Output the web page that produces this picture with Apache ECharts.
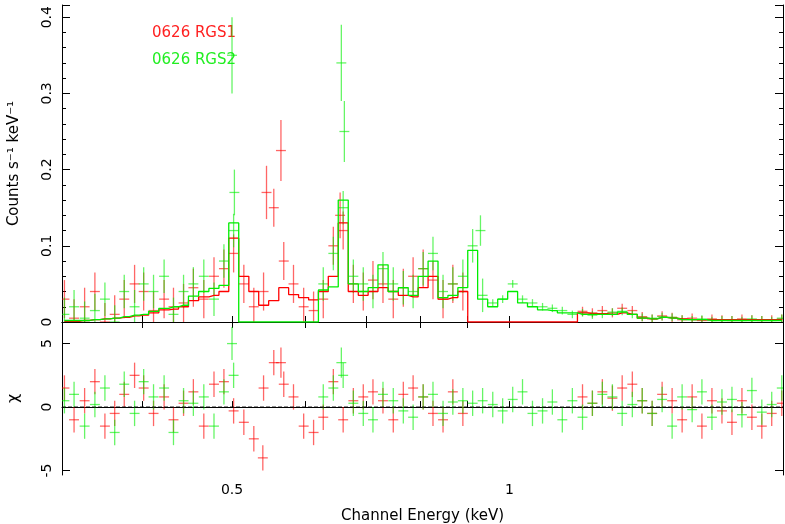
<!DOCTYPE html>
<html><head><meta charset="utf-8">
<script src="https://cdn.jsdelivr.net/npm/echarts@6/dist/echarts.min.js"></script>
<style>html,body{margin:0;padding:0;background:#fff}#c{width:785px;height:524px}</style>
</head><body><div id="c"></div>
<script>
const energies=[0.329,0.337,0.346,0.355,0.364,0.373,0.382,0.392,0.401,0.411,0.422,0.432,0.443,0.454,0.466,0.478,0.490,0.502,0.515,0.528,0.541,0.555,0.569,0.583,0.598,0.613,0.628,0.644,0.660,0.677,0.694,0.711,0.729,0.748,0.767,0.786,0.806,0.826,0.847,0.868,0.890,0.912,0.935,0.959,0.983,1.008,1.033,1.059,1.086,1.113,1.141,1.170,1.200,1.230,1.261,1.293,1.325,1.359,1.393,1.428,1.464,1.501,1.539,1.578,1.617,1.658,1.700,1.743,1.787,1.832,1.878,1.925,1.974];
const N=null;
const model1=[0.001,0.001,0.002,0.003,0.004,0.005,0.006,0.008,0.009,0.012,0.016,0.017,0.02,0.028,0.033,0.035,0.040,0.110,0.060,0.040,0.022,0.028,0.045,0.036,0.032,0.029,0.040,0.060,0.130,0.040,0.035,0.040,0.045,0.040,0.035,0.033,0.045,0.060,0.030,0.032,0.040,0,0,0,0,0,0,0,0,0,0,0,0.012,0.011,0.011,0.010,0.012,0.010,0.005,0.004,0.006,0.005,0.004,0.003,0.003,0.003,0.003,0.003,0.003,0.003,0.003,0.003,0.003];
const model2=[0.002,0.002,0.002,0.003,0.004,0.005,0.007,0.009,0.010,0.014,0.018,0.02,0.022,0.034,0.040,0.044,0.048,0.130,0,0,0,0,0,0,0,0,0.042,0.046,0.160,0.050,0.040,0.045,0.075,0.040,0.045,0.035,0.060,0.080,0.032,0.035,0.045,0.094,0.030,0.020,0.030,0.040,0.025,0.020,0.016,0.015,0.012,0.012,0.010,0.010,0.010,0.010,0.013,0.010,0.005,0.004,0.006,0.005,0.003,0.003,0.003,0.002,0.002,0.002,0.002,0.002,0.002,0.002,0.002];
const rgs1Y=[0.03,0.005,0.02,0.04,0.0,0.01,0.03,0.05,0.04,0.015,0.03,0.02,0.025,0.045,0.03,0.06,0.07,0.09,0.05,0.02,0.04,0.15,0.08,0.05,0.02,0.015,0.03,0.1,0.12,0.05,0.04,0.055,0.05,0.03,0.045,0.06,0.07,0.055,0.03,0.05,0.04,N,N,N,N,N,N,N,N,N,N,N,0.014,0.012,0.015,0.012,0.018,0.015,0.007,0.004,0.008,0.006,0.003,0.005,0.002,0.004,0.003,0.002,0.004,0.003,0.002,0.003,0.004];
const rgs2Y=[0.01,0.02,0.005,0.015,0.03,0.0,0.04,0.02,0.05,0.04,0.06,0.01,0.04,0.05,0.06,0.03,0.08,0.12,N,N,N,N,N,N,N,N,0.05,0.09,0.15,0.06,0.05,0.04,0.07,0.05,0.045,0.04,0.07,0.09,0.04,0.05,0.06,0.1,0.035,0.025,0.03,0.05,0.03,0.025,0.02,0.018,0.015,0.01,0.012,0.009,0.01,0.013,0.014,0.01,0.006,0.005,0.007,0.006,0.004,0.003,0.004,0.002,0.003,0.003,0.002,0.004,0.003,0.002,0.005];
const chi1=[1.5,-1,0.5,2,-1.5,-0.5,1,2.5,1.5,-0.5,0.8,-1,0.3,1.2,-1.5,1.8,2,-0.3,-1.2,-2.5,1.5,3.5,1.8,0.8,-1.5,-2,-0.8,2,-1,0.5,0.8,1.2,0.5,-1,1,1.5,0.8,-0.5,-1,1.2,-0.5,N,N,N,N,N,N,N,N,N,N,N,0.8,0.3,1.2,0.7,1.5,1.8,0.5,-0.5,1,0.5,-1,0.8,-1.5,0.5,-0.3,-1.2,0.5,-0.8,-1.5,-0.5,0.3];
const chi2=[0.5,1,-1.5,0.2,1.5,-2,1.8,-0.5,2,0.8,1.5,-2,0.5,0.3,0.8,-1.5,1.2,2.5,N,N,N,N,N,N,N,N,0.8,1.5,2.5,0.3,-0.5,-1,1,0.5,-0.3,-0.8,0.8,1,-0.5,0.4,0.5,0.3,0.5,0.2,-0.3,0.6,1.2,-0.5,-0.3,0.4,-1,0.5,-0.8,0.3,1,0.8,-0.5,0.2,0.5,-0.5,0.6,-1.5,0.8,-0.2,1.2,-0.8,0.4,0.6,-0.6,1.3,-0.4,0.2,1.5];
const spikes1=[[0.565,0.225,0.04],[0.655,0.14,0.03],[0.545,0.17,0.035]];
const spikes2=[[0.5,0.35,0.05],[0.503,0.17,0.03],[0.657,0.34,0.05],[0.662,0.25,0.04],[0.93,0.12,0.02]];
const chiSpikes1=[[0.565,3.5,1.2],[0.54,-4,1]];
const chiSpikes2=[[0.5,5,1.3],[0.657,3.5,1.2]];
const xMinor=[0.4,0.5,0.6,0.7,0.8,0.9,1,2];
const xLabels=[0.5,1];

const RED='#ff0000', GREEN='#00ee00';
function errData(y,err,extra){
  const d=[];
  energies.forEach((e,i)=>{ if(y[i]!==null) d.push([e,y[i],typeof err==='function'?err(i,y[i]):err]); });
  return d.concat(extra);
}
function eb(color,xi,yi,data){
  return {type:'custom',xAxisIndex:xi,yAxisIndex:yi,clip:true,data:data,z:2,
    renderItem:(p,api)=>{
      const e=api.value(0),y=api.value(1),r=api.value(2);
      const a=api.coord([e/1.0125,y]),b=api.coord([e*1.0125,y]);
      const t=api.coord([e,y+r]),u=api.coord([e,y-r]);
      const st={stroke:color,lineWidth:1.3,opacity:0.6};
      return {type:'group',children:[
        {type:'line',shape:{x1:a[0],y1:a[1],x2:b[0],y2:b[1]},style:st},
        {type:'line',shape:{x1:t[0],y1:t[1],x2:u[0],y2:u[1]},style:st}]};
    }};
}
const err1=(i,v)=> energies[i]<0.95?0.025:0.006;
const err2=(i,v)=> energies[i]<0.95?0.022:0.005;
const font='DejaVu Sans';
const xBase={type:'log',logBase:2,min:0.327,max:1.98,
  axisLine:{show:true,lineStyle:{color:'#000'}},
  axisTick:{show:true,inside:true,length:6,customValues:xMinor,lineStyle:{color:'#000'}},
  splitLine:{show:false},
  axisLabel:{show:false}};
const chart=echarts.init(document.getElementById('c'));
chart.setOption({
  animation:false,
  grid:[{left:62,right:2,top:5,height:317,outerBoundsMode:'none',containLabel:false},
        {left:62,right:2,top:322,height:153,outerBoundsMode:'none',containLabel:false}],
  xAxis:[
    Object.assign({},xBase,{gridIndex:0}),
    Object.assign({},xBase,{gridIndex:1,name:'Channel Energy (keV)',nameLocation:'middle',nameGap:34,
      nameTextStyle:{fontFamily:font,fontSize:15,color:'#000'},
      axisLabel:{show:true,customValues:xLabels,fontFamily:font,fontSize:14,color:'#000',formatter:v=>String(v)}}),
    Object.assign({},xBase,{gridIndex:0,position:'top'}),
  ],
  yAxis:[
    {gridIndex:0,type:'value',min:0,max:0.416,interval:0.1,
     name:'Counts s⁻¹ keV⁻¹',nameLocation:'middle',nameGap:40,nameTextStyle:{fontFamily:font,fontSize:15,color:'#000'},
     axisLine:{show:true,lineStyle:{color:'#000'}},splitLine:{show:false},
     axisTick:{show:true,inside:true,length:8,lineStyle:{color:'#000'}},
     minorTick:{show:true,splitNumber:5,length:4,lineStyle:{color:'#000'}},
     axisLabel:{rotate:90,fontFamily:font,fontSize:14,color:'#000',showMaxLabel:false,formatter:v=>v===0?'0':v.toFixed(1)}},
    {gridIndex:1,type:'value',min:-5.35,max:6.7,
     name:'χ',nameLocation:'middle',nameGap:40,nameTextStyle:{fontFamily:font,fontSize:16,color:'#000'},
     axisLine:{show:true,lineStyle:{color:'#000'}},splitLine:{show:false},
     axisTick:{show:true,inside:true,length:8,customValues:[-5,0,5],lineStyle:{color:'#000'}},
     axisLabel:{rotate:90,fontFamily:font,fontSize:14,color:'#000',customValues:[-5,0,5],formatter:v=>String(Math.round(v))}},
    {gridIndex:0,type:'value',min:0,max:0.416,interval:0.1,position:'right',
     axisLine:{show:true,lineStyle:{color:'#000'}},splitLine:{show:false},axisLabel:{show:false},
     axisTick:{show:true,inside:true,length:8,lineStyle:{color:'#000'}},
     minorTick:{show:true,splitNumber:5,length:4,lineStyle:{color:'#000'}}},
    {gridIndex:1,type:'value',min:-5.35,max:6.7,position:'right',
     axisLine:{show:true,lineStyle:{color:'#000'}},splitLine:{show:false},axisLabel:{show:false},
     axisTick:{show:true,inside:true,length:8,customValues:[-5,0,5],lineStyle:{color:'#000'}}}
  ],
  series:[
    eb(RED,0,0,errData(rgs1Y,err1,spikes1)),
    eb(GREEN,0,0,errData(rgs2Y,err2,spikes2)),
    eb(RED,1,1,errData(chi1,1,chiSpikes1)),
    eb(GREEN,1,1,errData(chi2,1,chiSpikes2)),
    {type:'line',xAxisIndex:0,yAxisIndex:0,step:'middle',symbol:'none',z:3,
     data:energies.map((e,i)=>[e,model1[i]]),lineStyle:{color:RED,width:1.3}},
    {type:'line',xAxisIndex:0,yAxisIndex:0,step:'middle',symbol:'none',z:3,
     data:energies.map((e,i)=>[e,model2[i]]),lineStyle:{color:GREEN,width:1.3}},
    {type:'line',xAxisIndex:1,yAxisIndex:1,symbol:'none',z:4,
     data:[[0.327,0],[1.98,0]],lineStyle:{color:'#000',width:1,type:'dashed'}}
  ],
  graphic:[
    {type:'text',left:152,top:26,style:{text:'0626 RGS1',fill:'#ff2020',font:'15px "DejaVu Sans"'}},
    {type:'text',left:152,top:53,style:{text:'0626 RGS2',fill:'#22ee22',font:'15px "DejaVu Sans"'}}
  ]
});
</script></body></html>
